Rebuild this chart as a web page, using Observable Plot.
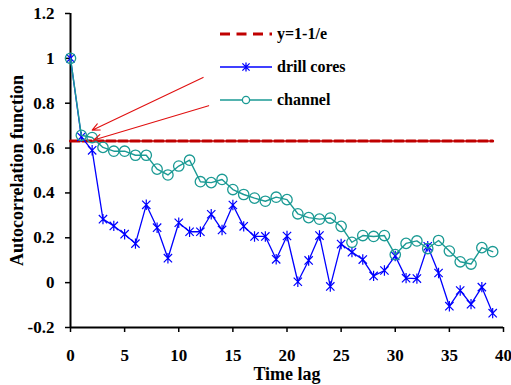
<!DOCTYPE html>
<html>
<head>
<meta charset="utf-8">
<script src="https://cdn.jsdelivr.net/npm/d3@7"></script>
<script src="https://cdn.jsdelivr.net/npm/@observablehq/plot@0.6"></script>
<style>
html, body { margin: 0; padding: 0; background: #fff; }
#wrap { position: relative; width: 511px; height: 385px; font-family: "Liberation Serif", "Times New Roman", serif; font-weight: bold; }
#wrap svg { overflow: visible; }
#legend { position: absolute; left: 220px; top: 17px; font-size: 16px; color: #000; }
#legend .row { display: flex; align-items: center; height: 33.3px; }
#legend .row svg { margin-right: 5px; }
</style>
</head>
<body>
<div id="wrap">
  <div id="chart"></div>
  <div id="legend"></div>
</div>
<script>
// ---- data ----
const lags = [0,1,2,3,4,5,6,7,8,9,10,11,12,13,14,15,16,17,18,19,20,21,22,23,24,25,26,27,28,29,30,31,32,33,34,35,36,37,38,39];
const drillCores = [1, 0.65, 0.59, 0.283, 0.253, 0.216, 0.174, 0.347, 0.245, 0.109, 0.267, 0.227, 0.227, 0.305, 0.235, 0.346, 0.251, 0.206, 0.206, 0.104, 0.208, 0.004, 0.099, 0.21, -0.017, 0.172, 0.136, 0.103, 0.03, 0.054, 0.119, 0.02, 0.018, 0.162, 0.043, -0.105, -0.035, -0.096, -0.02, -0.136];
const channel = [1, 0.657, 0.647, 0.603, 0.586, 0.586, 0.568, 0.568, 0.506, 0.48, 0.52, 0.546, 0.45, 0.446, 0.46, 0.415, 0.393, 0.377, 0.363, 0.381, 0.37, 0.307, 0.29, 0.283, 0.288, 0.251, 0.18, 0.21, 0.206, 0.21, 0.125, 0.175, 0.186, 0.152, 0.188, 0.141, 0.093, 0.083, 0.156, 0.138];
const thresholdValue = 0.632;       // y = 1 - 1/e
const thresholdSpan = [0, 39];
const xTicks = [0, 5, 10, 15, 20, 25, 30, 35, 40];
const yTicks = [-0.2, 0, 0.2, 0.4, 0.6, 0.8, 1, 1.2];
const yTickLabels = ["-0.2", "0", "0.2", "0.4", "0.6", "0.8", "1", "1.2"];
const seriesNames = ["y=1-1/e", "drill cores", "channel"];
const xTitle = "Time lag";
const yTitle = "Autocorrelation function";
// annotation arrows (from legend toward the crossing points)
const arrows = [
  {x1: 12.25, y1: 0.915, x2: 2.0, y2: 0.68},
  {x1: 12.76, y1: 0.789, x2: 2.15, y2: 0.636}
];

// ---- styles ----
const FONT = "'Liberation Serif', 'Times New Roman', serif";
const BLUE = "#0000ff";
const TEAL = "#1b9a94";
const RED = "#c00000";
const ARROW_RED = "#e01010";

const drillData = lags.map((t, i) => ({t, v: drillCores[i]}));
const channelData = lags.map((t, i) => ({t, v: channel[i]}));
const thresholdData = thresholdSpan.map(t => ({t, v: thresholdValue}));

const starSymbol = {
  draw(ctx, size) {
    const r = Math.sqrt(size / Math.PI);
    const d = r * 0.8;
    ctx.moveTo(0, -r); ctx.lineTo(0, r);
    ctx.moveTo(-d, -d); ctx.lineTo(d, d);
    ctx.moveTo(-d, d); ctx.lineTo(d, -d);
  }
};

const chart = Plot.plot({
  width: 511,
  height: 385,
  marginLeft: 70,
  marginRight: 8,
  marginTop: 13,
  marginBottom: 58,
  style: {fontSize: "17px", color: "#000", background: "#fff"},
  x: {domain: [0, 40]},
  y: {domain: [-0.2, 1.2]},
  marks: [
    Plot.axisX({ticks: xTicks, tickFormat: d => String(d), tickSize: 5, tickPadding: 16, strokeWidth: 1.5, fontSize: 17, label: null}),
    Plot.axisY({ticks: yTicks, tickFormat: d => yTickLabels[yTicks.findIndex(v => Math.abs(v - d) < 1e-9)], tickSize: 5, tickPadding: 11, strokeWidth: 1.5, fontSize: 17, label: null}),
    Plot.ruleX([0], {y1: -0.2, y2: 1.2, stroke: "#000", strokeWidth: 2}),
    Plot.ruleY([-0.2], {x1: 0, x2: 40, stroke: "#000", strokeWidth: 2}),
    Plot.line(thresholdData, {x: "t", y: "v", stroke: RED, strokeWidth: 3, strokeDasharray: "9,3"}),
    Plot.line(drillData, {x: "t", y: "v", stroke: BLUE, strokeWidth: 1.3}),
    Plot.dot(drillData, {x: "t", y: "v", symbol: starSymbol, r: 5.2, stroke: BLUE, strokeWidth: 1.2, fill: "none"}),
    Plot.line(channelData, {x: "t", y: "v", stroke: TEAL, strokeWidth: 1.4}),
    Plot.dot(channelData, {x: "t", y: "v", r: 5.2, stroke: TEAL, strokeWidth: 1.3, fill: "none"}),
    Plot.arrow(arrows, {x1: "x1", y1: "y1", x2: "x2", y2: "y2", stroke: ARROW_RED, strokeWidth: 1.1, headLength: 11, headAngle: 50}),
    Plot.text([xTitle], {frameAnchor: "bottom", textAnchor: "middle", lineAnchor: "middle", dy: 47, fontSize: 18}),
    Plot.text([yTitle], {frameAnchor: "left", textAnchor: "middle", lineAnchor: "middle", dx: -53, rotate: -90, fontSize: 18})
  ]
});
// force the serif bold face on every text of the chart
d3.select(chart).style("font-family", FONT).style("font-weight", "bold");
d3.select(chart).selectAll("g").attr("font-family", null);
d3.select(chart).selectAll("text, tspan").style("font-family", FONT).style("font-weight", "bold");
document.getElementById("chart").appendChild(chart);

// ---- legend ----
const legend = document.getElementById("legend");
legend.style.fontFamily = FONT;
const NS = "http://www.w3.org/2000/svg";
function swatch(kind) {
  const s = document.createElementNS(NS, "svg");
  s.setAttribute("width", 52); s.setAttribute("height", 14);
  const line = document.createElementNS(NS, "line");
  line.setAttribute("x1", 0); line.setAttribute("x2", 52);
  line.setAttribute("y1", 7); line.setAttribute("y2", 7);
  if (kind === 0) {
    line.setAttribute("stroke", RED); line.setAttribute("stroke-width", 3);
    line.setAttribute("stroke-dasharray", "10,6.5");
    s.appendChild(line);
  } else if (kind === 1) {
    line.setAttribute("stroke", BLUE); line.setAttribute("stroke-width", 1.3);
    s.appendChild(line);
    const p = document.createElementNS(NS, "path");
    const r = 4.5, d = 3.6;
    p.setAttribute("d", `M26,${7-r}L26,${7+r}M${26-d},${7-d}L${26+d},${7+d}M${26-d},${7+d}L${26+d},${7-d}`);
    p.setAttribute("stroke", BLUE); p.setAttribute("stroke-width", 1.3);
    s.appendChild(p);
  } else {
    line.setAttribute("stroke", TEAL); line.setAttribute("stroke-width", 1.6);
    s.appendChild(line);
    const c = document.createElementNS(NS, "circle");
    c.setAttribute("cx", 26); c.setAttribute("cy", 7); c.setAttribute("r", 3.6);
    c.setAttribute("fill", "#fff"); c.setAttribute("stroke", TEAL); c.setAttribute("stroke-width", 1.3);
    s.appendChild(c);
  }
  return s;
}
seriesNames.forEach((name, i) => {
  const row = document.createElement("div");
  row.className = "row";
  row.appendChild(swatch(i));
  const span = document.createElement("span");
  span.textContent = name;
  row.appendChild(span);
  legend.appendChild(row);
});
</script>
</body>
</html>
